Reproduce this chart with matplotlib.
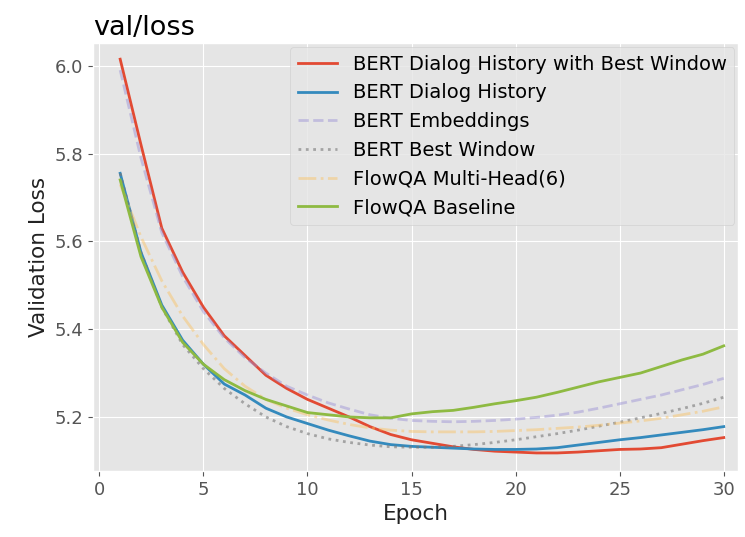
import matplotlib
matplotlib.use("Agg")
import matplotlib.pyplot as plt

plt.style.use("ggplot")
plt.rcParams["font.family"] = "DejaVu Sans"
plt.rcParams["font.size"] = 13

epochs = list(range(1, 31))

bert_hist_window = [6.015, 5.82, 5.63, 5.53, 5.45, 5.385, 5.34, 5.295, 5.265, 5.24,
                    5.22, 5.20, 5.178, 5.16, 5.148, 5.14, 5.132, 5.126, 5.122, 5.12,
                    5.118, 5.118, 5.12, 5.123, 5.126, 5.127, 5.13, 5.138, 5.146, 5.153]
bert_hist = [5.755, 5.575, 5.455, 5.375, 5.32, 5.275, 5.25, 5.22, 5.20, 5.185,
             5.17, 5.157, 5.145, 5.137, 5.133, 5.131, 5.129, 5.127, 5.126, 5.126,
             5.127, 5.13, 5.136, 5.142, 5.148, 5.153, 5.159, 5.165, 5.171, 5.178]
bert_emb = [5.99, 5.79, 5.62, 5.52, 5.44, 5.38, 5.335, 5.30, 5.27, 5.25,
            5.232, 5.218, 5.205, 5.197, 5.192, 5.19, 5.189, 5.19, 5.192, 5.195,
            5.199, 5.204, 5.211, 5.22, 5.23, 5.24, 5.25, 5.262, 5.274, 5.288]
bert_window = [5.755, 5.575, 5.45, 5.365, 5.31, 5.265, 5.23, 5.20, 5.178, 5.162,
               5.15, 5.142, 5.136, 5.132, 5.131, 5.131, 5.133, 5.137, 5.142, 5.148,
               5.155, 5.162, 5.17, 5.179, 5.188, 5.198, 5.208, 5.219, 5.231, 5.245]
flowqa_mh = [5.73, 5.61, 5.51, 5.43, 5.365, 5.31, 5.27, 5.24, 5.22, 5.205,
             5.193, 5.183, 5.175, 5.17, 5.167, 5.166, 5.166, 5.166, 5.167, 5.169,
             5.171, 5.174, 5.177, 5.181, 5.186, 5.191, 5.197, 5.205, 5.213, 5.223]
flowqa_base = [5.74, 5.565, 5.45, 5.37, 5.32, 5.285, 5.26, 5.24, 5.225, 5.21,
               5.205, 5.20, 5.198, 5.198, 5.207, 5.212, 5.215, 5.222, 5.23, 5.237,
               5.245, 5.256, 5.268, 5.28, 5.29, 5.30, 5.315, 5.33, 5.343, 5.362]

fig = plt.figure(figsize=(7.45, 5.37), dpi=100)
ax = fig.add_axes([0.125, 0.123, 0.866, 0.797])

ax.plot(epochs, bert_hist_window, color="#E24A33", lw=2, label="BERT Dialog History with Best Window")
ax.plot(epochs, bert_hist, color="#348ABD", lw=2, label="BERT Dialog History")
ax.plot(epochs, bert_emb, color="#988ED5", lw=2, ls="--", alpha=0.45, label="BERT Embeddings")
ax.plot(epochs, bert_window, color="#777777", lw=2, ls=":", alpha=0.6, label="BERT Best Window")
ax.plot(epochs, flowqa_mh, color="#FBC15E", lw=2, ls="-.", alpha=0.45, label="FlowQA Multi-Head(6)")
ax.plot(epochs, flowqa_base, color="#8EBA42", lw=2, label="FlowQA Baseline")

ax.set_xlim(-0.3, 30.7)
ax.set_ylim(5.077, 6.052)
ax.set_xticks([0, 5, 10, 15, 20, 25, 30])
ax.set_yticks([5.2, 5.4, 5.6, 5.8, 6.0])
ax.set_title("val/loss", loc="left", fontsize=19.5, color="black")
ax.set_xlabel("Epoch", fontsize=15.5, color="#222222")
ax.set_ylabel("Validation Loss", fontsize=15.5, color="#222222")
ax.legend(loc="upper right", fontsize=14, facecolor="#E5E5E5", framealpha=0.8,
          borderaxespad=0.2)

fig.savefig("out.png", dpi=100)
